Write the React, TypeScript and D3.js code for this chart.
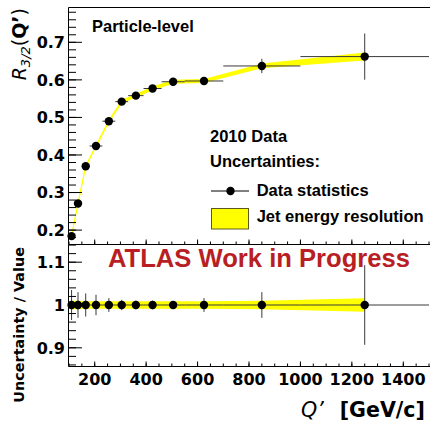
import React from "react";
import * as d3 from "d3";

// Bin layout in Q' [GeV/c]
const binEdges = [100, 120, 150, 180, 230, 280, 330, 390, 460, 550, 700, 1000, 1500];
const qCenters = [110, 135, 165, 205, 255, 305, 360, 425, 505, 625, 850, 1250];
// Measured R_3/2 at particle level
const r32 = [0.184, 0.271, 0.37, 0.424, 0.49, 0.542, 0.558, 0.577, 0.595, 0.597, 0.637, 0.662];
// Relative uncertainties
const statRel = [0.035, 0.03, 0.027, 0.024, 0.016, 0.012, 0.01, 0.01, 0.008, 0.016, 0.03, 0.093];
const jerRel = [0.01, 0.01, 0.009, 0.009, 0.009, 0.009, 0.009, 0.009, 0.009, 0.009, 0.01, 0.016];

const W = 430;
const H = 424;
const LEFT = 69;
const RIGHT = 429;
const TOP_Y0 = 7;
const TOP_Y1 = 244;
const BOT_Y0 = 244;
const BOT_Y1 = 366;

const AX_FONT = "'DejaVu Sans', Verdana, sans-serif";
const TXT_FONT = "'Liberation Sans', Arial, Helvetica, sans-serif";
const YELLOW = "#ffff00";
const ERR = "#3a3a3a";

export default function App() {
  const x = d3.scaleLinear().domain([100, 1500]).range([LEFT, RIGHT]);
  const yTop = d3.scaleLinear().domain([0.163, 0.794]).range([TOP_Y1, TOP_Y0]);
  const yBot = d3.scaleLinear().domain([0.8575, 1.1425]).range([BOT_Y1, BOT_Y0]);

  const pts = qCenters.map((q, i) => ({
    q,
    lo: binEdges[i],
    hi: binEdges[i + 1],
    r: r32[i],
    stat: r32[i] * statRel[i],
    jer: r32[i] * jerRel[i],
    statRel: statRel[i],
    jerRel: jerRel[i],
  }));

  const bandTop = d3
    .area<any>()
    .x((d) => x(d.q))
    .y0((d) => yTop(d.r - d.jer))
    .y1((d) => yTop(d.r + d.jer));
  const lineTop = d3
    .line<any>()
    .x((d) => x(d.q))
    .y((d) => yTop(d.r));
  const bandBot = d3
    .area<any>()
    .x((d) => x(d.q))
    .y0((d) => yBot(1 - d.jerRel))
    .y1((d) => yBot(1 + d.jerRel));

  const fmtTop = d3.format(".1f");
  const fmtBot = (v: number) => String(+v.toFixed(1));

  const xMajor = x.ticks(7);
  const xMinor = x.ticks(28);

  const yAxis = (
    scale: d3.ScaleLinear<number, number>,
    nMajor: number,
    nMinor: number,
    fmt: (v: number) => string,
    key: string
  ) => (
    <g key={key}>
      {scale.ticks(nMinor).map((t) => (
        <line key={"mn" + t} x1={LEFT} x2={LEFT + 7} y1={scale(t)} y2={scale(t)} stroke="#000" strokeWidth={1} />
      ))}
      {scale.ticks(nMajor).map((t) => (
        <g key={"mj" + t}>
          <line x1={LEFT} x2={LEFT + 13} y1={scale(t)} y2={scale(t)} stroke="#000" strokeWidth={1} />
          <text
            x={65}
            y={scale(t)}
            dy="0.36em"
            textAnchor="end"
            fontFamily={AX_FONT}
            fontWeight="bold"
            fontSize={16}
          >
            {fmt(t)}
          </text>
        </g>
      ))}
    </g>
  );

  const xTicks = (yBase: number, key: string) => (
    <g key={key}>
      {xMinor.map((t) => (
        <line key={"mn" + t} x1={x(t)} x2={x(t)} y1={yBase} y2={yBase - 2.5} stroke="#000" strokeWidth={1} />
      ))}
      {xMajor.map((t) => (
        <line key={"mj" + t} x1={x(t)} x2={x(t)} y1={yBase} y2={yBase - 4.5} stroke="#000" strokeWidth={1} />
      ))}
    </g>
  );

  return (
    <svg
      width={W}
      height={H}
      viewBox={`0 0 ${W} ${H}`}
      style={{ position: "absolute", left: 0, top: 0, background: "#fff" }}
    >
      <rect x={0} y={0} width={W} height={H} fill="#fff" />

      {/* Upper panel: R_3/2 with JER band */}
      <path d={bandTop(pts) || ""} fill={YELLOW} stroke="none" />
      <path d={lineTop(pts) || ""} fill="none" stroke={YELLOW} strokeWidth={1.2} />
      {pts.map((p, i) => (
        <g key={"tp" + i}>
          <line x1={x(p.lo)} x2={x(p.hi)} y1={yTop(p.r)} y2={yTop(p.r)} stroke={ERR} strokeWidth={1} />
          <line
            x1={x(p.q)}
            x2={x(p.q)}
            y1={yTop(p.r - p.stat)}
            y2={yTop(p.r + p.stat)}
            stroke={ERR}
            strokeWidth={1}
          />
          <circle cx={x(p.q)} cy={yTop(p.r)} r={4.2} fill="#000" />
        </g>
      ))}

      {/* Lower panel: relative uncertainties */}
      <path d={bandBot(pts) || ""} fill={YELLOW} stroke="none" />
      {pts.map((p, i) => (
        <g key={"bp" + i}>
          <line x1={x(p.lo)} x2={x(p.hi)} y1={yBot(1)} y2={yBot(1)} stroke={ERR} strokeWidth={1} />
          <line
            x1={x(p.q)}
            x2={x(p.q)}
            y1={yBot(1 - p.statRel)}
            y2={yBot(1 + p.statRel)}
            stroke={ERR}
            strokeWidth={1}
          />
          <circle cx={x(p.q)} cy={yBot(1)} r={4.2} fill="#000" />
        </g>
      ))}

      {/* Frames */}
      <path
        d={`M${LEFT - 0.5},${TOP_Y1 + 0.5} V${TOP_Y0 + 0.5} H${W + 2}`}
        fill="none"
        stroke="#000"
        strokeWidth={1}
      />
      <line x1={LEFT - 0.5} x2={W + 2} y1={TOP_Y1 + 0.5} y2={TOP_Y1 + 0.5} stroke="#000" strokeWidth={1.2} />
      <path
        d={`M${LEFT - 0.5},${BOT_Y0 + 0.5} V${BOT_Y1 + 0.5} H${W + 2}`}
        fill="none"
        stroke="#000"
        strokeWidth={1}
      />

      {yAxis(yTop, 6, 30, (v) => fmtTop(v), "yTop")}
      {yAxis(yBot, 3, 14, fmtBot, "yBot")}
      {xTicks(TOP_Y1, "xTop")}
      {xTicks(BOT_Y1, "xBot")}

      {/* x tick labels */}
      {xMajor.map((t) => (
        <text
          key={"xl" + t}
          x={x(t)}
          y={385}
          textAnchor="middle"
          fontFamily={AX_FONT}
          fontWeight="bold"
          fontSize={16}
        >
          {t}
        </text>
      ))}

      {/* Axis titles */}
      <text
        transform="translate(26,8) rotate(-90)"
        textAnchor="end"
        fontFamily={AX_FONT}
        fontSize={19}
      >
        <tspan fontStyle="italic">R</tspan>
        <tspan fontStyle="italic" fontSize={13} dy={4}>
          3/2
        </tspan>
        <tspan dy={-4}>(</tspan>
        <tspan fontWeight="bold">Q’</tspan>
        <tspan>)</tspan>
      </text>
      <text
        transform="translate(24,247) rotate(-90)"
        textAnchor="end"
        fontFamily={AX_FONT}
        fontWeight="bold"
        fontSize={14.4}
      >
        Uncertainty / Value
      </text>
      <text x={301} y={417} fontFamily={AX_FONT} fontStyle="italic" fontSize={20.6}>
        Q’
      </text>
      <text x={425} y={417} textAnchor="end" fontFamily={AX_FONT} fontWeight="bold" fontSize={20.6}>
        [GeV/c]
      </text>

      {/* Annotations */}
      <text x={92} y={32.3} fontFamily={TXT_FONT} fontWeight="bold" fontSize={16.5}>
        Particle-level
      </text>
      <text x={210} y={141.7} fontFamily={TXT_FONT} fontWeight="bold" fontSize={16.5}>
        2010 Data
      </text>
      <text x={210} y={166.7} fontFamily={TXT_FONT} fontWeight="bold" fontSize={16.5}>
        Uncertainties:
      </text>

      {/* Legend */}
      <line x1={211} x2={249} y1={191} y2={191} stroke="#000" strokeWidth={1} />
      <circle cx={230.5} cy={191} r={4.2} fill="#000" />
      <text x={256.7} y={195.5} fontFamily={TXT_FONT} fontWeight="bold" fontSize={16.5}>
        Data statistics
      </text>
      <rect x={211.5} y={208.5} width={37} height={20.5} fill={YELLOW} stroke="#5a5a20" strokeWidth={1} />
      <text x={256.7} y={222} fontFamily={TXT_FONT} fontWeight="bold" fontSize={16.5}>
        Jet energy resolution
      </text>

      <text x={108} y={266.7} fontFamily={TXT_FONT} fontWeight="bold" fontSize={25.6} fill="#b81e23">
        ATLAS Work in Progress
      </text>
    </svg>
  );
}
